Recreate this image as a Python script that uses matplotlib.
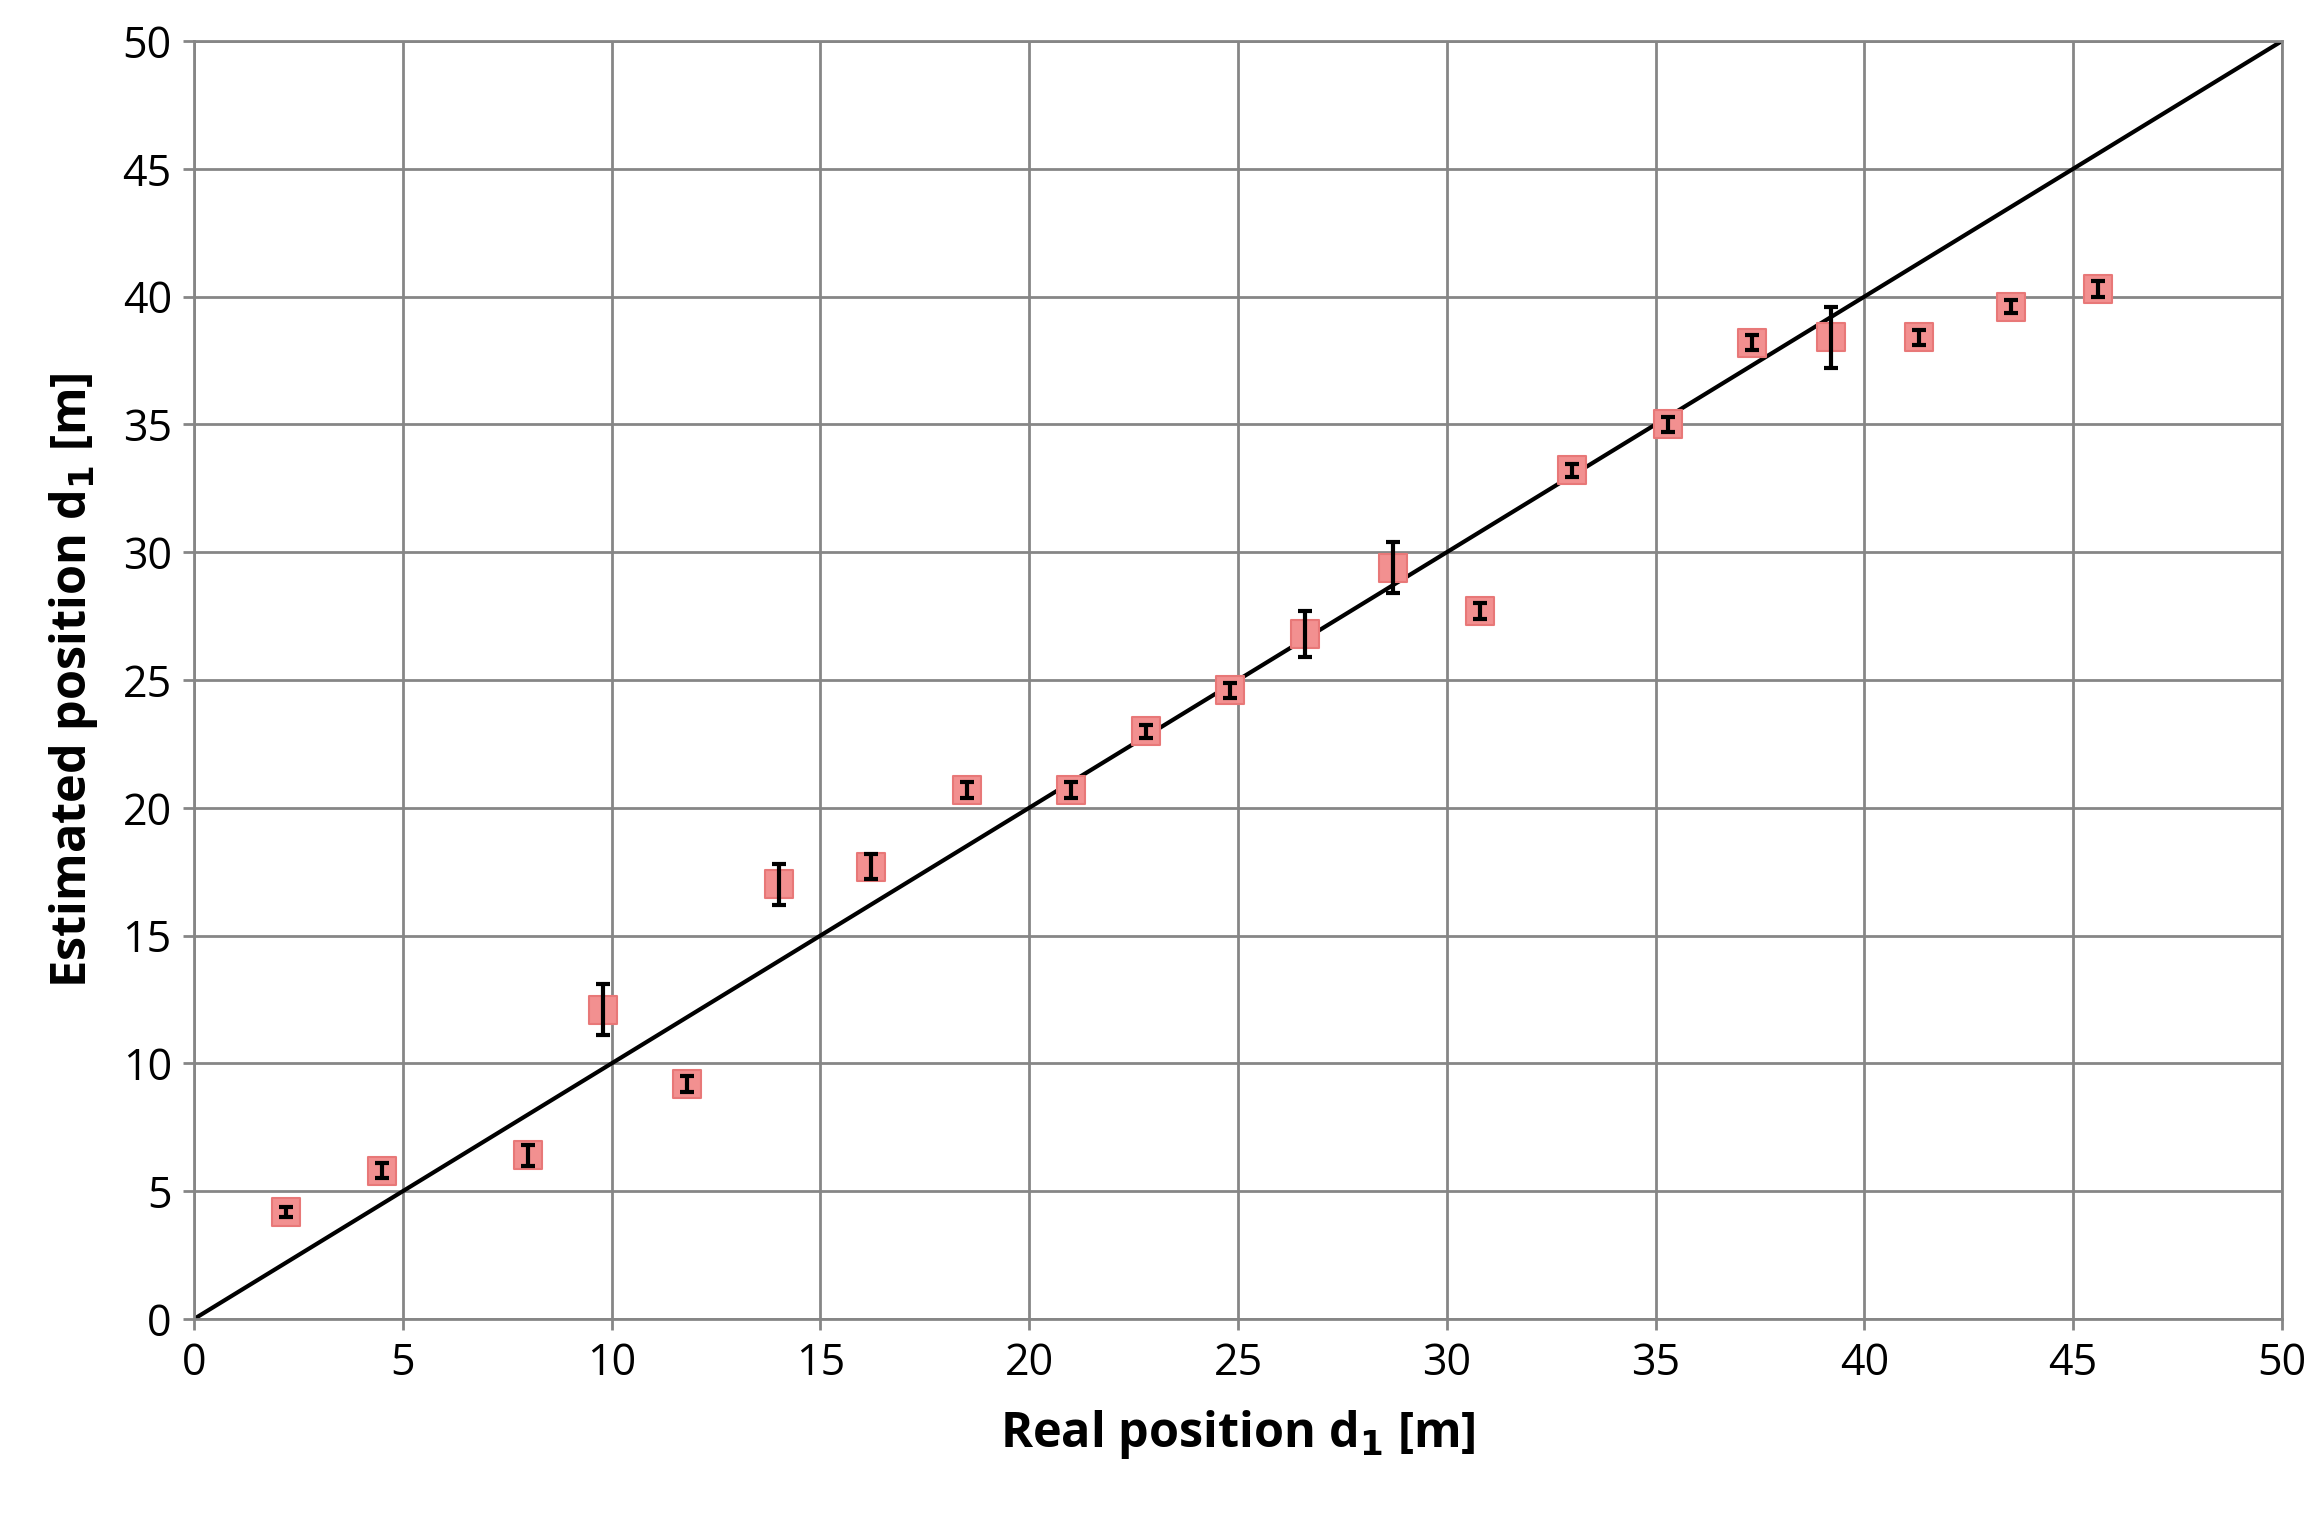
import matplotlib
matplotlib.use('Agg')
import matplotlib.pyplot as plt

real_pos = [2.2, 4.5, 8.0, 9.8, 11.8, 14.0, 16.2, 18.5, 21.0, 22.8, 24.8,
            26.6, 28.7, 30.8, 33.0, 35.3, 37.3, 39.2, 41.3, 43.5, 45.6]
est_pos = [4.2, 5.8, 6.4, 12.1, 9.2, 17.0, 17.7, 20.7, 20.7, 23.0, 24.6,
           26.8, 29.4, 27.7, 33.2, 35.0, 38.2, 38.4, 38.4, 39.6, 40.3]
est_err = [0.2, 0.3, 0.4, 1.0, 0.3, 0.8, 0.5, 0.3, 0.3, 0.25, 0.3,
           0.9, 1.0, 0.3, 0.25, 0.3, 0.3, 1.2, 0.3, 0.25, 0.3]
ticks = list(range(0, 51, 5))

plt.rcParams['font.family'] = ['Open Sans', 'DejaVu Sans']
fig = plt.figure(figsize=(23.23, 15.18), dpi=100)
ax = fig.add_axes([194 / 2323, 1 - 1319 / 1518, (2282 - 194) / 2323, (1319 - 41) / 1518])

ax.plot([0, 50], [0, 50], color='black', lw=3, zorder=2)
ax.scatter(real_pos, est_pos, marker='s', s=420, color='#f29090', edgecolors='#e87878',
           linewidths=1.5, zorder=3)
ax.errorbar(real_pos, est_pos, yerr=est_err, fmt='none', ecolor='black', elinewidth=3,
            capsize=5, capthick=3, zorder=4)

ax.set_xlim(0, 50)
ax.set_ylim(0, 50)
ax.set_xticks(ticks)
ax.set_yticks(ticks)
ax.grid(True, color='#868686', lw=2)
ax.set_axisbelow(True)
for s in ax.spines.values():
    s.set_color('#868686')
    s.set_linewidth(2)
ax.tick_params(labelsize=31, length=8, width=2, color='#868686', pad=8)
ax.set_xlabel('Real position d$_\\mathbf{1}$ [m]', fontsize=35, fontweight='bold', labelpad=16)
ax.set_ylabel('Estimated position d$_\\mathbf{1}$ [m]', fontsize=35, fontweight='bold', labelpad=16)

fig.savefig('out.png', dpi=100)
